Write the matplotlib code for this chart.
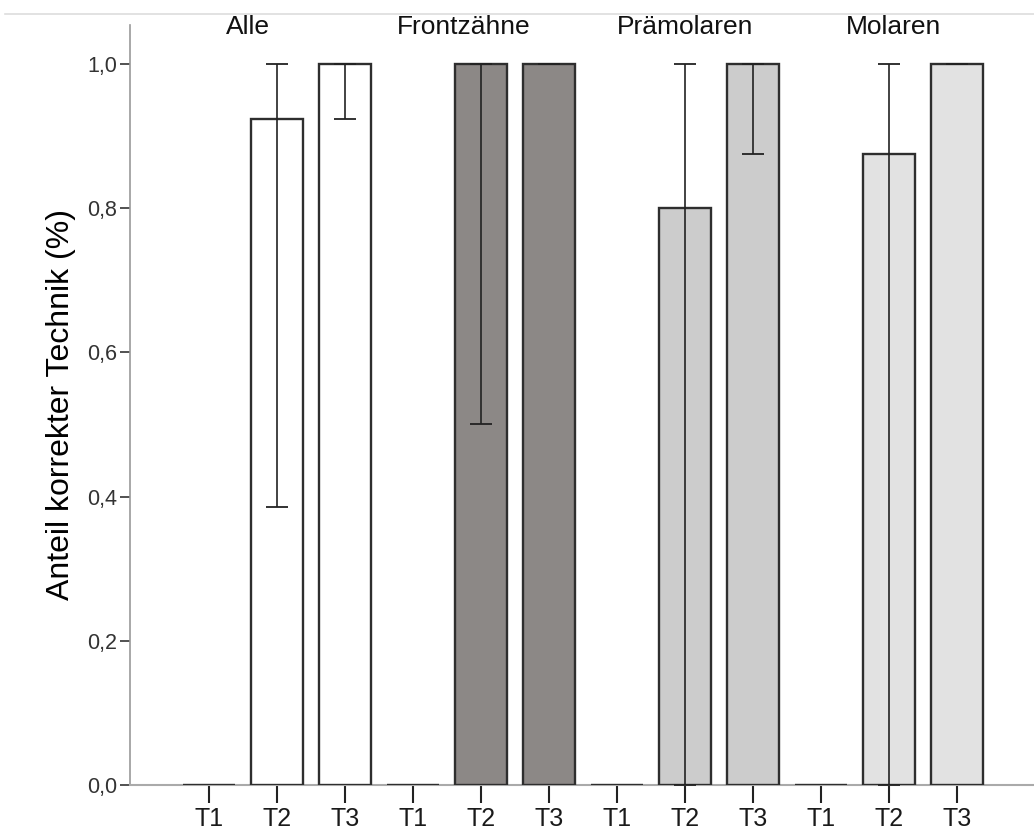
import matplotlib
matplotlib.use("Agg")
import matplotlib.pyplot as plt
from matplotlib.lines import Line2D
import numpy as np

plt.rcParams['font.family'] = ['Liberation Sans', 'DejaVu Sans']

groups = ["Alle", "Frontzähne", "Prämolaren", "Molaren"]
times = ["T1", "T2", "T3"]
values = [0.0, 0.923, 1.0,
          0.0, 1.0, 1.0,
          0.0, 0.80, 1.0,
          0.0, 0.875, 1.0]
err_low = [0.0, 0.385, 0.923,
           0.0, 0.50, 1.0,
           0.0, 0.0, 0.875,
           0.0, 0.0, 1.0]
err_high = [0.0, 1.0, 1.0,
            0.0, 1.0, 1.0,
            0.0, 1.0, 1.0,
            0.0, 1.0, 1.0]
group_colors = ["#ffffff", "#8c8886", "#cccccc", "#e2e2e2"]
yticks = [0.0, 0.2, 0.4, 0.6, 0.8, 1.0]

fig = plt.figure(figsize=(10.34, 8.3), dpi=100)
ax = fig.add_axes([0.1257, 0.0542, 1 - 0.1257, 0.9157])

x = np.arange(len(values))
colors = [group_colors[i // 3] for i in range(len(values))]
vals = np.array(values)
lo = vals - np.array(err_low)
hi = np.array(err_high) - vals

ax.bar(x, vals, width=0.765, color=colors, edgecolor="#2e2e2e", linewidth=1.7, zorder=3)
mask = np.array([v > 0 for v in values])
ax.errorbar(x[mask], vals[mask], yerr=[lo[mask], hi[mask]], fmt="none",
            ecolor="#222222", elinewidth=1.2, capsize=8, capthick=1.3, zorder=4)

ax.set_xlim(-1.16, 12.13)
ax.set_ylim(0, 1.054)
ax.set_xticks(x)
ax.set_xticklabels(times * 4, fontsize=18, color="#1a1a1a")
ax.set_yticks(yticks)
ax.set_yticklabels([f"{t:.1f}".replace(".", ",") for t in yticks], fontsize=15.5, color="#333333")
ax.tick_params(axis="x", length=13, width=1.5, color="#222222", pad=3)
ax.tick_params(axis="y", length=7, width=1.2, color="#333333", pad=2)

for s in ["top", "right"]:
    ax.spines[s].set_visible(False)
ax.spines["left"].set_color("#999999")
ax.spines["left"].set_linewidth(1.2)
ax.spines["bottom"].set_color("#aaaaaa")
ax.spines["bottom"].set_linewidth(1.5)

ax.set_ylabel("Anteil korrekter Technik (%)", fontsize=23, labelpad=8)

title_pos = [0.57, 3.75, 7.0, 10.06]
for g, p in zip(groups, title_pos):
    ax.text(p, 0.997, g, transform=ax.get_xaxis_transform(), ha="center", va="center",
            fontsize=19, color="#111111")

fig.add_artist(Line2D([0.005, 1.0], [1 - 14 / 830, 1 - 14 / 830], color="#dddddd", linewidth=1.2))

fig.savefig("out.png", dpi=100, facecolor="white")
